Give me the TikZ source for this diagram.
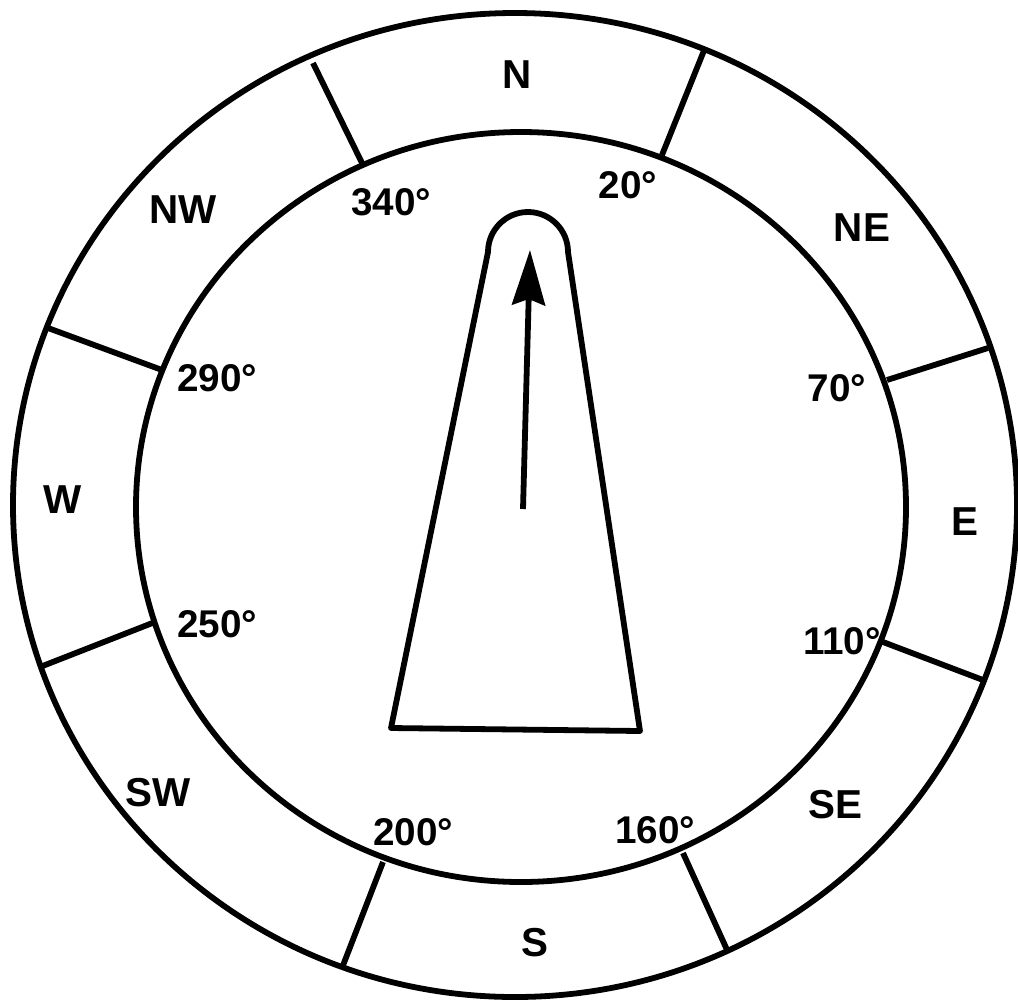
\documentclass[tikz,border=0pt]{standalone}
\usepackage{fontspec}
\setmainfont{Liberation Sans}
\usetikzlibrary{arrows.meta}

\begin{document}
\begin{tikzpicture}[x=0.02cm,y=-0.02cm,line width=3.3pt,
  every node/.style={font=\bfseries\fontsize{22}{22}\selectfont,inner sep=0pt},
  point/.style={font=\bfseries\fontsize{23}{23}\selectfont}]
  \useasboundingbox (0,0) rectangle (1018,1002);
  % rings
  \draw (515,505) ellipse [x radius=502,y radius=492];
  \draw (521,507) ellipse [x radius=385,y radius=375];
  \foreach \ax/\ay/\bx/\by in {662/155/705/48,887/380/988/348,883/642/983/680,683/853/728/952,383/862/342/968,155/622/40/667,162/370/48/328,362/163/313/63}
    \draw (\ax,\ay) -- (\bx,\by);
  % points of the compass
  \node[point] (n) at (517,75) {N};
  \node[point] (ne) at (862,228) {NE};
  \node[point] (e) at (965,522) {E};
  \node[point] (se) at (835,805) {SE};
  \node[point] (s) at (535,943) {S};
  \node[point] (sw) at (158,793) {SW};
  \node[point] (w) at (63,500) {W};
  \node[point] (nw) at (183,210) {NW};
  % bearings
  \node (d340) at (391,202) {340°};
  \node (d20) at (628,185) {20°};
  \node (d290) at (217,378) {290°};
  \node (d70) at (837,388) {70°};
  \node (d110) at (842,641) {110°};
  \node (d250) at (217,624) {250°};
  \node (d200) at (413,832) {200°};
  \node (d160) at (655,830) {160°};
  % pointer
  \draw[line join=round] (391,728) -- (488,252) arc[start angle=180,end angle=360,radius=40] -- (640,731) -- cycle;
  \draw[-{Stealth[length=1.1cm,width=0.66cm,inset=0.12cm]}] (523,509) -- (530,250);
\end{tikzpicture}
\end{document}
